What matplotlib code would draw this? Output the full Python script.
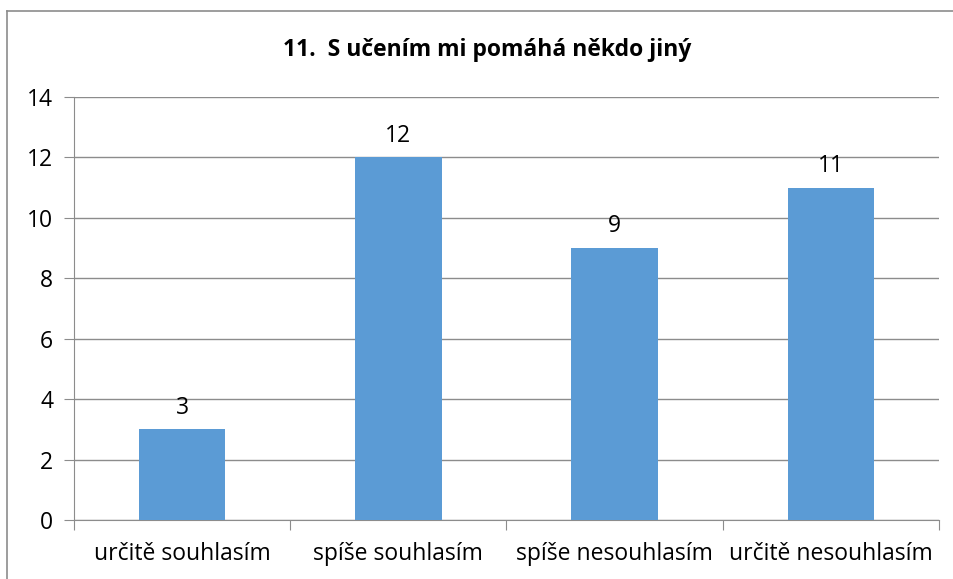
import matplotlib.pyplot as plt
from matplotlib.lines import Line2D

categories = ['určitě souhlasím', 'spíše souhlasím', 'spíše nesouhlasím', 'určitě nesouhlasím']
values = [3, 12, 9, 11]
title = '11.  S učením mi pomáhá někdo jiný'

plt.rcParams['font.family'] = ['Open Sans', 'DejaVu Sans']

fig = plt.figure(figsize=(9.54, 5.79), dpi=100)
ax = fig.add_axes([74 / 954, 1 - 520 / 579, 865 / 954, 423 / 579])

# outer chart border (only top and left are visible in the crop)
top = 1 - 11 / 579
left = 7 / 954
fig.lines.append(Line2D([left, 1.0], [top, top], transform=fig.transFigure,
                        color='#8c8c8c', linewidth=1.2))
fig.lines.append(Line2D([left, left], [0, top], transform=fig.transFigure,
                        color='#8c8c8c', linewidth=1.2))

x = range(len(categories))
bars = ax.bar(x, values, width=0.4, color='#5b9bd5', zorder=3)
for b, v in zip(bars, values):
    ax.annotate(str(v), (b.get_x() + b.get_width() / 2, v), xytext=(0, 7),
                textcoords='offset points', ha='center', va='bottom', fontsize=16.5)

ax.set_xlim(-0.5, len(categories) - 0.5)
ax.set_ylim(0, 14)
ax.set_yticks(range(0, 15, 2))
ax.yaxis.grid(True, color='#8c8c8c', linewidth=1)
ax.set_axisbelow(True)

ax.set_xticks([i - 0.5 for i in range(len(categories) + 1)])
ax.set_xticklabels([])
ax.set_xticks(list(x), minor=True)
ax.set_xticklabels(categories, minor=True, fontsize=16.5)
ax.tick_params(axis='x', which='minor', length=0, pad=16)
ax.tick_params(axis='x', which='major', length=7, color='#8c8c8c')
ax.tick_params(axis='y', length=7, color='#8c8c8c', labelsize=16.5, pad=8)

for s in ['top', 'right']:
    ax.spines[s].set_visible(False)
for s in ['left', 'bottom']:
    ax.spines[s].set_color('#8c8c8c')

fig.text(487 / 954, 1 - 50 / 579, title, ha='center', va='center',
         fontsize=16.5, fontweight='bold')

fig.savefig('out.png', dpi=100)
